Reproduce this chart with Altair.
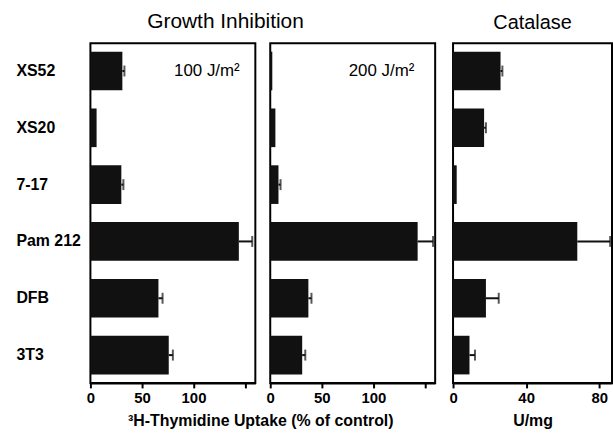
import altair as alt
import pandas as pd

categories = ["XS52", "XS20", "7-17", "Pam 212", "DFB", "3T3"]
gi100 = [31, 6, 30, 144, 66, 76]
err100 = [2, 0, 2, 13, 4, 4]
gi200 = [2, 5, 8, 143, 37, 31]
err200 = [0, 0, 2, 15, 3, 3]
catalase = [26, 17, 2, 68, 18, 9]
errcat = [1, 1, 0, 18, 7, 3]
gi_ticks = [0, 50, 100, 150]
cat_ticks = [0, 40, 80]

FONT = "Liberation Sans"
BLACK = "#111111"


def make_df(vals, errs):
    return pd.DataFrame({
        "cat": categories,
        "v": vals,
        "e": errs,
        "hi": [v + e for v, e in zip(vals, errs)],
    })


def panel(vals, errs, domain, ticks, width, show_y, xtitle, title_x=None,
          ann_text=None, ann_x=None, hide_last=False):
    df = make_df(vals, errs)
    dfe = df[df["e"] > 0]
    label_expr = "datum.value == 150 ? '' : datum.label" if hide_last else "datum.label"
    axis_kw = dict(values=ticks, labelExpr=label_expr, tickSize=5, tickWidth=2,
                   tickColor="black", domainWidth=2, domainColor="black",
                   labelFontSize=15, labelFontWeight="bold", labelFont=FONT,
                   labelColor="black", labelPadding=3, grid=False, labelFlush=False,
                   title=xtitle, titleFontSize=16, titleFontWeight="bold",
                   titleFont=FONT, titleColor="black", titlePadding=7)
    if title_x is not None:
        axis_kw["titleX"] = title_x
    xscale = alt.Scale(domain=domain, nice=False, zero=True)
    yscale = alt.Scale(domain=categories, paddingInner=0.32, paddingOuter=0.15)
    if show_y:
        yaxis = alt.Axis(title=None, ticks=False, tickSize=0, domain=False,
                         labelAlign="left", labelPadding=75, labelFontSize=16,
                         labelFontWeight="bold", labelFont=FONT, labelColor="black")
    else:
        yaxis = None
    bars = alt.Chart(df).mark_bar(color=BLACK).encode(
        x=alt.X("v:Q", scale=xscale, axis=alt.Axis(**axis_kw)),
        y=alt.Y("cat:N", sort=categories, scale=yscale, axis=yaxis),
    )
    rule = alt.Chart(dfe).mark_rule(color=BLACK, strokeWidth=2).encode(
        x=alt.X("v:Q", scale=xscale), x2="hi:Q",
        y=alt.Y("cat:N", sort=categories, scale=yscale),
    )
    cap = alt.Chart(dfe).mark_tick(color=BLACK, thickness=2, size=11).encode(
        x=alt.X("hi:Q", scale=xscale),
        y=alt.Y("cat:N", sort=categories, scale=yscale),
    )
    layers = [bars, rule, cap]
    if ann_text is not None:
        adf = pd.DataFrame({"x": [ann_x], "cat": [categories[0]], "t": [ann_text]})
        txt = alt.Chart(adf).mark_text(fontSize=17, font=FONT, color="black",
                                       align="center", baseline="middle").encode(
            x=alt.X("x:Q", scale=xscale),
            y=alt.Y("cat:N", sort=categories, scale=yscale),
            text="t:N",
        )
        layers.append(txt)
    return alt.layer(*layers).properties(width=width, height=342)


p1 = panel(gi100, err100, [0, 160], gi_ticks, 166, True,
           "³H-Thymidine Uptake (% of control)", title_x=171,
           ann_text="100 J/m²", ann_x=113, hide_last=True)
p2 = panel(gi200, err200, [0, 160], gi_ticks, 166, False, None,
           ann_text="200 J/m²", ann_x=108, hide_last=True)
p3 = panel(catalase, errcat, [0, 87], cat_ticks, 160, False, "U/mg").properties(
    title=alt.TitleParams("Catalase", fontSize=20, font=FONT, fontWeight="normal",
                          color="black", anchor="middle", offset=10))

growth = alt.hconcat(p1, p2, spacing=15, bounds="flush").properties(
    title=alt.TitleParams("Growth Inhibition", fontSize=21, font=FONT,
                          fontWeight="normal", color="black", anchor="middle",
                          offset=10))

chart = alt.hconcat(growth, p3, spacing=11).properties(
    padding={"left": 15, "top": 10, "right": 0, "bottom": 5},
    background="white",
).configure_view(stroke="black", strokeWidth=2)

chart.save("out.html", embed_options={"renderer": "svg", "actions": False})
